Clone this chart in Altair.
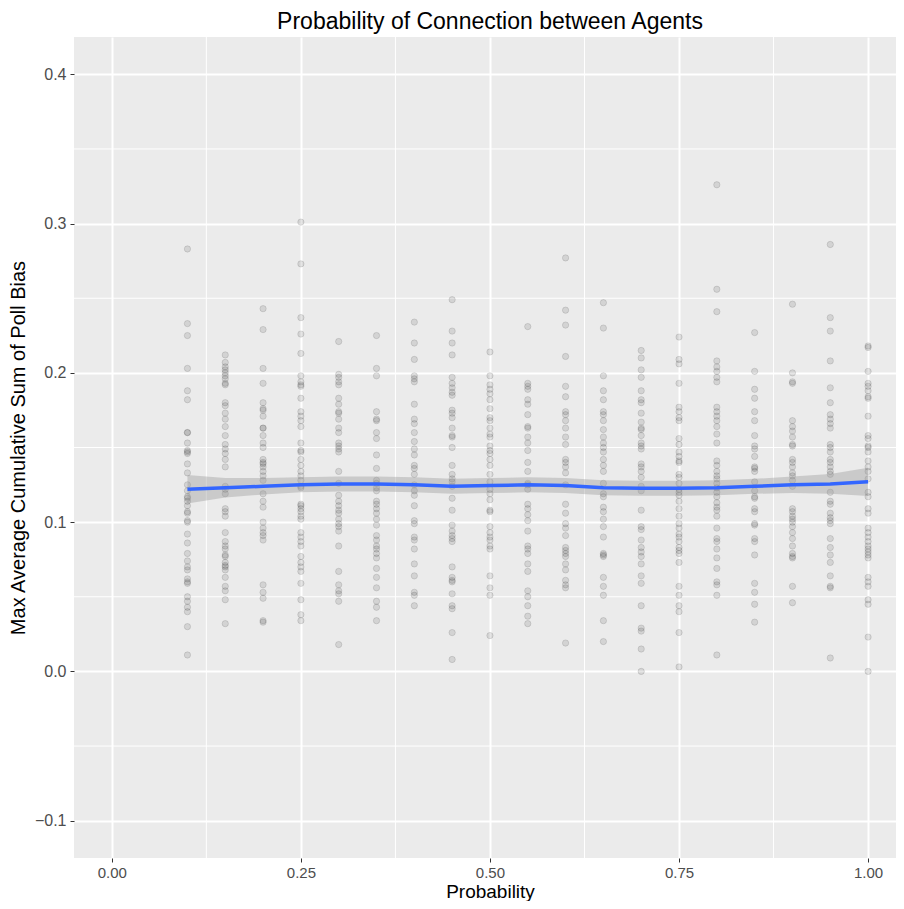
import altair as alt
import pandas as pd

FONT = "Liberation Sans"

# ---- data: one list per probability column ----
probs = [0.10, 0.15, 0.20, 0.25, 0.30, 0.35, 0.40, 0.45, 0.50, 0.55,
         0.60, 0.65, 0.70, 0.75, 0.80, 0.85, 0.90, 0.95, 1.00]

y_p010 = [0.283, 0.233, 0.225, 0.203, 0.188, 0.182, 0.160, 0.160, 0.153, 0.148, 0.147, 0.146, 0.139,
          0.133, 0.125, 0.121, 0.117, 0.116, 0.114, 0.111, 0.107, 0.106, 0.101, 0.100, 0.092, 0.086,
          0.079, 0.074, 0.070, 0.068, 0.062, 0.060, 0.059, 0.050, 0.047, 0.043, 0.040, 0.030, 0.011]
y_p015 = [0.212, 0.207, 0.204, 0.202, 0.200, 0.198, 0.196, 0.193, 0.192, 0.180, 0.178, 0.173, 0.169,
          0.164, 0.158, 0.152, 0.149, 0.146, 0.142, 0.137, 0.124, 0.122, 0.119, 0.109, 0.107, 0.104,
          0.093, 0.087, 0.084, 0.082, 0.078, 0.077, 0.073, 0.071, 0.070, 0.068, 0.063, 0.057, 0.054,
          0.048, 0.032]
y_p020 = [0.243, 0.229, 0.203, 0.193, 0.180, 0.176, 0.175, 0.171, 0.163, 0.163, 0.158, 0.153, 0.150,
          0.142, 0.140, 0.139, 0.137, 0.134, 0.131, 0.128, 0.119, 0.114, 0.110, 0.100, 0.096, 0.093,
          0.091, 0.088, 0.058, 0.053, 0.049, 0.034, 0.033]
y_p025 = [0.301, 0.273, 0.237, 0.226, 0.213, 0.198, 0.194, 0.192, 0.191, 0.183, 0.174, 0.171, 0.168,
          0.164, 0.153, 0.148, 0.147, 0.142, 0.138, 0.134, 0.131, 0.128, 0.124, 0.123, 0.112, 0.111,
          0.109, 0.107, 0.104, 0.102, 0.093, 0.090, 0.087, 0.084, 0.077, 0.073, 0.070, 0.067, 0.059,
          0.048, 0.038, 0.034]
y_p030 = [0.221, 0.199, 0.197, 0.194, 0.192, 0.183, 0.179, 0.174, 0.173, 0.169, 0.163, 0.160, 0.153,
          0.151, 0.149, 0.147, 0.134, 0.126, 0.118, 0.114, 0.111, 0.108, 0.106, 0.102, 0.099, 0.097,
          0.094, 0.084, 0.067, 0.058, 0.054, 0.052, 0.047, 0.018]
y_p035 = [0.225, 0.203, 0.198, 0.174, 0.169, 0.168, 0.160, 0.156, 0.145, 0.136, 0.128, 0.126, 0.123,
          0.121, 0.114, 0.112, 0.109, 0.106, 0.102, 0.098, 0.091, 0.088, 0.084, 0.082, 0.079, 0.076,
          0.069, 0.063, 0.056, 0.047, 0.043, 0.034]
y_p040 = [0.234, 0.220, 0.209, 0.198, 0.196, 0.194, 0.179, 0.169, 0.166, 0.160, 0.154, 0.149, 0.145,
          0.138, 0.136, 0.132, 0.125, 0.121, 0.118, 0.111, 0.101, 0.099, 0.090, 0.088, 0.082, 0.072,
          0.064, 0.053, 0.051, 0.044]
y_p045 = [0.249, 0.228, 0.220, 0.212, 0.197, 0.193, 0.190, 0.187, 0.185, 0.175, 0.173, 0.170, 0.163,
          0.158, 0.157, 0.150, 0.138, 0.132, 0.129, 0.127, 0.124, 0.116, 0.108, 0.098, 0.094, 0.091,
          0.089, 0.087, 0.070, 0.063, 0.061, 0.060, 0.052, 0.044, 0.042, 0.026, 0.008]
y_p050 = [0.214, 0.198, 0.192, 0.189, 0.186, 0.182, 0.176, 0.170, 0.168, 0.163, 0.159, 0.157, 0.151,
          0.148, 0.146, 0.142, 0.138, 0.132, 0.127, 0.122, 0.119, 0.115, 0.108, 0.107, 0.097, 0.093,
          0.090, 0.088, 0.084, 0.082, 0.064, 0.056, 0.051, 0.024]
y_p055 = [0.231, 0.193, 0.191, 0.189, 0.182, 0.179, 0.172, 0.164, 0.163, 0.157, 0.153, 0.148, 0.140,
          0.134, 0.126, 0.125, 0.122, 0.112, 0.109, 0.105, 0.101, 0.094, 0.084, 0.082, 0.079, 0.072,
          0.067, 0.054, 0.050, 0.044, 0.037, 0.032]
y_p060 = [0.277, 0.242, 0.232, 0.211, 0.191, 0.184, 0.174, 0.172, 0.168, 0.163, 0.157, 0.152, 0.142,
          0.140, 0.137, 0.133, 0.125, 0.112, 0.106, 0.099, 0.096, 0.091, 0.083, 0.081, 0.079, 0.077,
          0.072, 0.068, 0.061, 0.058, 0.056, 0.019]
y_p065 = [0.247, 0.230, 0.198, 0.188, 0.182, 0.174, 0.172, 0.168, 0.162, 0.157, 0.153, 0.150, 0.147,
          0.142, 0.138, 0.134, 0.126, 0.119, 0.117, 0.110, 0.107, 0.102, 0.097, 0.090, 0.079, 0.078,
          0.077, 0.063, 0.057, 0.051, 0.034, 0.020]
y_p070 = [0.215, 0.210, 0.202, 0.197, 0.188, 0.182, 0.180, 0.173, 0.167, 0.163, 0.162, 0.158, 0.153,
          0.151, 0.149, 0.139, 0.137, 0.134, 0.130, 0.124, 0.121, 0.108, 0.097, 0.095, 0.088, 0.083,
          0.080, 0.077, 0.072, 0.064, 0.059, 0.044, 0.029, 0.027, 0.015, 0.000]
y_p075 = [0.224, 0.209, 0.206, 0.193, 0.177, 0.174, 0.170, 0.168, 0.156, 0.152, 0.147, 0.144, 0.141,
          0.140, 0.132, 0.130, 0.126, 0.122, 0.120, 0.118, 0.114, 0.109, 0.104, 0.099, 0.096, 0.092,
          0.090, 0.087, 0.083, 0.081, 0.079, 0.073, 0.057, 0.051, 0.044, 0.040, 0.026, 0.003]
y_p080 = [0.326, 0.256, 0.241, 0.208, 0.204, 0.201, 0.197, 0.194, 0.177, 0.174, 0.171, 0.168, 0.164,
          0.159, 0.153, 0.141, 0.138, 0.134, 0.131, 0.129, 0.126, 0.123, 0.120, 0.117, 0.113, 0.110,
          0.108, 0.104, 0.096, 0.089, 0.087, 0.082, 0.076, 0.069, 0.060, 0.058, 0.051, 0.011]
y_p085 = [0.227, 0.201, 0.189, 0.183, 0.174, 0.168, 0.158, 0.151, 0.149, 0.144, 0.137, 0.136, 0.134,
          0.127, 0.121, 0.117, 0.116, 0.109, 0.107, 0.099, 0.098, 0.089, 0.087, 0.078, 0.059, 0.053,
          0.045, 0.033]
y_p090 = [0.246, 0.200, 0.194, 0.193, 0.168, 0.164, 0.161, 0.157, 0.152, 0.151, 0.142, 0.140, 0.137,
          0.133, 0.131, 0.128, 0.124, 0.109, 0.107, 0.104, 0.102, 0.100, 0.097, 0.093, 0.089, 0.084,
          0.079, 0.077, 0.076, 0.057, 0.046]
y_p095 = [0.286, 0.237, 0.228, 0.208, 0.190, 0.180, 0.172, 0.169, 0.166, 0.163, 0.152, 0.150, 0.147,
          0.142, 0.140, 0.137, 0.134, 0.132, 0.120, 0.114, 0.112, 0.106, 0.103, 0.101, 0.099, 0.089,
          0.083, 0.078, 0.073, 0.064, 0.057, 0.056, 0.009]
y_p100 = [0.218, 0.217, 0.201, 0.193, 0.191, 0.188, 0.184, 0.183, 0.171, 0.158, 0.156, 0.151, 0.150,
          0.147, 0.141, 0.137, 0.134, 0.129, 0.120, 0.117, 0.109, 0.106, 0.096, 0.093, 0.090, 0.087,
          0.084, 0.082, 0.080, 0.078, 0.076, 0.063, 0.060, 0.057, 0.048, 0.045, 0.023, 0.000]

columns = [y_p010, y_p015, y_p020, y_p025, y_p030, y_p035, y_p040, y_p045, y_p050, y_p055,
           y_p060, y_p065, y_p070, y_p075, y_p080, y_p085, y_p090, y_p095, y_p100]

# smoothed fit (loess) and its confidence band
smooth_x = probs
smooth_fit = [0.1220, 0.1230, 0.1240, 0.1250, 0.1255, 0.1255, 0.1250, 0.1240, 0.1245, 0.1250,
              0.1245, 0.1230, 0.1227, 0.1227, 0.1230, 0.1240, 0.1250, 0.1256, 0.1270]
smooth_lo = [0.1125, 0.1165, 0.1185, 0.1200, 0.1205, 0.1205, 0.1200, 0.1190, 0.1195, 0.1200,
             0.1195, 0.1180, 0.1177, 0.1177, 0.1180, 0.1190, 0.1195, 0.1190, 0.1175]
smooth_hi = [0.1315, 0.1295, 0.1295, 0.1300, 0.1305, 0.1305, 0.1300, 0.1290, 0.1295, 0.1300,
             0.1295, 0.1280, 0.1277, 0.1277, 0.1280, 0.1290, 0.1305, 0.1322, 0.1365]

x_major = [0.0, 0.25, 0.5, 0.75, 1.0]
x_minor = [0.125, 0.375, 0.625, 0.875]
y_major = [-0.1, 0.0, 0.1, 0.2, 0.3, 0.4]
y_minor = [-0.05, 0.05, 0.15, 0.25, 0.35]

rows = []
for p, vals in zip(probs, columns):
    for v in vals:
        rows.append({"p": p, "bias": v})
points_df = pd.DataFrame(rows)
smooth_df = pd.DataFrame({"p": smooth_x, "fit": smooth_fit, "lo": smooth_lo, "hi": smooth_hi})
xminor_df = pd.DataFrame({"v": x_minor})
yminor_df = pd.DataFrame({"v": y_minor})

x_scale = alt.Scale(domain=[-0.05, 1.0369], nice=False, zero=False)
y_scale = alt.Scale(domain=[-0.125, 0.425], nice=False, zero=False)

x_axis = alt.Axis(values=x_major, format=".2f", title="Probability", grid=True,
                  gridColor="white", gridWidth=2, domain=False, tickColor="#333333",
                  tickSize=4, tickWidth=1, labelFont=FONT, labelFontSize=15,
                  labelColor="#4D4D4D", labelPadding=3, labelFlush=False, labelOverlap=False,
                  titleFont=FONT, titleFontSize=19, titleFontWeight="normal", titleColor="black",
                  titleX=416, titleY=39, titleBaseline="alphabetic", titleAnchor="start",
                  titleAlign="center")
y_axis = alt.Axis(values=y_major, format=".1f", title="Max Average Cumulative Sum of Poll Bias",
                  grid=True, gridColor="white", gridWidth=2, domain=False, tickColor="#333333",
                  tickSize=4, tickWidth=1, labelFont=FONT, labelFontSize=16,
                  labelColor="#4D4D4D", labelPadding=4, labelFlush=False, labelOverlap=False,
                  titleFont=FONT, titleFontSize=20, titleFontWeight="normal", titleColor="black",
                  titleX=-46, titleY=410.5, titleAngle=270, titleAlign="center",
                  titleBaseline="bottom")

X = alt.X("p:Q", scale=x_scale, axis=x_axis)
Y = alt.Y("bias:Q", scale=y_scale, axis=y_axis)

minor_x = alt.Chart(xminor_df).mark_rule(color="white", strokeWidth=1).encode(
    x=alt.X("v:Q", scale=x_scale, axis=x_axis))
minor_y = alt.Chart(yminor_df).mark_rule(color="white", strokeWidth=1).encode(
    y=alt.Y("v:Q", scale=y_scale, axis=y_axis))

pts = alt.Chart(points_df).mark_point(
    filled=True, size=40, color="black", fillOpacity=0.1,
    stroke="black", strokeOpacity=0.14, strokeWidth=0.8, clip=True
).encode(x=X, y=Y)

band = alt.Chart(smooth_df).mark_area(color="#999999", opacity=0.4, clip=True).encode(
    x=alt.X("p:Q", scale=x_scale, axis=x_axis),
    y=alt.Y("lo:Q", scale=y_scale, axis=y_axis),
    y2="hi:Q")

line = alt.Chart(smooth_df).mark_line(color="#3366FF", strokeWidth=3.5, clip=True).encode(
    x=alt.X("p:Q", scale=x_scale, axis=x_axis),
    y=alt.Y("fit:Q", scale=y_scale, axis=y_axis))

chart = alt.layer(minor_x, minor_y, pts, band, line).properties(
    width=822, height=821,
    background="white",
    autosize=alt.AutoSizeParams(type="none"),
    padding={"left": 66, "top": 29, "right": 0, "bottom": 43},
    title=alt.TitleParams("Probability of Connection between Agents", font=FONT, fontSize=23,
                          fontWeight="normal", color="black", anchor="middle", offset=3, dx=5),
).configure_view(fill="#EBEBEB", strokeWidth=0)

chart.save("out.html", embed_options={"renderer": "svg", "actions": False})
